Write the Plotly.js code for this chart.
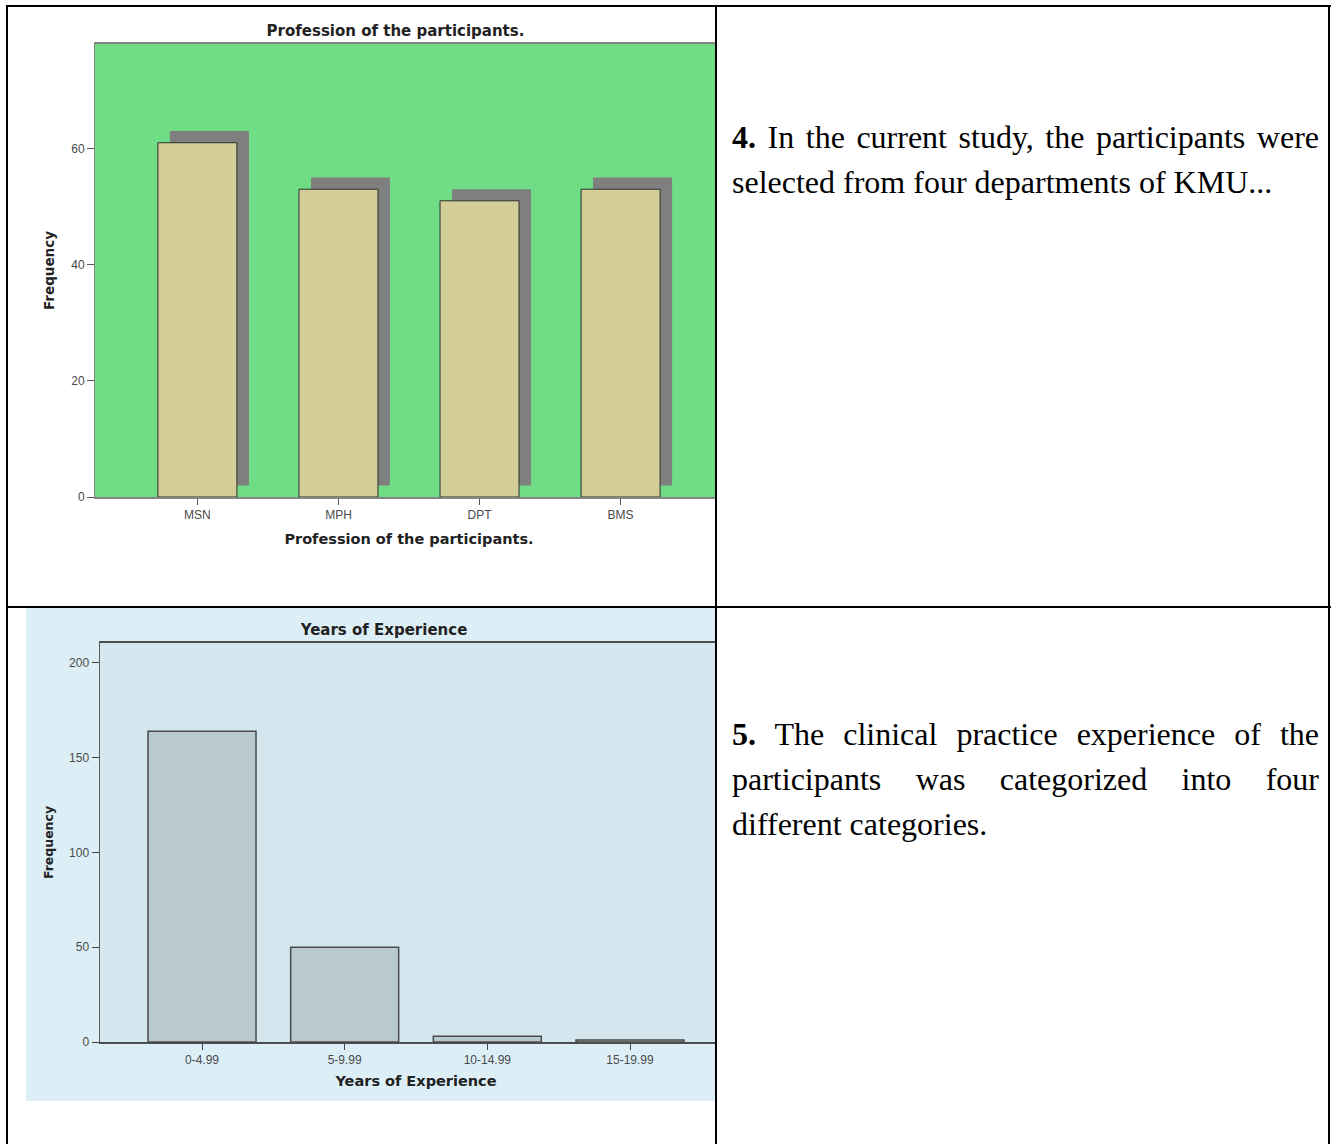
<!DOCTYPE html>
<html>
<head>
<meta charset="utf-8">
<script src="https://cdn.plot.ly/plotly-3.0.1.min.js"></script>
<style>
  html, body { margin: 0; padding: 0; background: #ffffff; }
  body { width: 1332px; height: 1144px; position: relative; overflow: hidden; }
  .rule { position: absolute; background: #000000; }
  .cell { position: absolute; overflow: hidden; background: #ffffff; }
  .note {
    position: absolute;
    font-family: "Liberation Serif", "Times New Roman", serif;
    font-size: 32px;
    line-height: 45px;
    color: #000000;
    white-space: nowrap;
  }
  .note .ln { display: block; text-align: justify; text-align-last: justify; white-space: normal; }
  .note .ln.last { text-align-last: left; }
  .note b { font-weight: bold; }
</style>
</head>
<body>

<div class="cell" style="left:8px; top:7px; width:707px; height:599px;">
  <div id="professionChart" style="position:absolute; left:0; top:0;"></div>
</div>

<div class="cell" style="left:8px; top:608px; width:707px; height:536px;">
  <div id="experienceChart" style="position:absolute; left:18px; top:0;"></div>
</div>

<div class="note" style="left:732px; top:115px; width:587px;">
  <div class="ln"><b>4.</b> In the current study, the participants were</div>
  <div class="ln last">selected from four departments of KMU...</div>
</div>
<div class="note" style="left:732px; top:712px; width:587px;">
  <div class="ln"><b>5.</b> The clinical practice experience of the</div>
  <div class="ln">participants was categorized into four</div>
  <div class="ln last">different categories.</div>
</div>

<!-- table rules -->
<div class="rule" style="left:6px; top:5px; width:1325px; height:2px;"></div>
<div class="rule" style="left:6px; top:5px; width:2px; height:1139px;"></div>
<div class="rule" style="left:715px; top:5px; width:2px; height:1139px;"></div>
<div class="rule" style="left:1328px; top:5px; width:2px; height:1139px;"></div>
<div class="rule" style="left:6px; top:606px; width:1325px; height:2px;"></div>

<script>
// Profession of the participants (frequency per department)
const professions = ['MSN', 'MPH', 'DPT', 'BMS'];
const professionCounts = [61, 53, 51, 53];
const professionTicks = [0, 20, 40, 60];

// Years of clinical experience (frequency per band)
const experienceBands = ['0-4.99', '5-9.99', '10-14.99', '15-19.99'];
const experienceCounts = [164, 50, 3, 1];
const experienceTicks = [0, 50, 100, 150, 200];

const tickFont = { family: 'Liberation Sans Narrow, Arial Narrow, Liberation Sans, Arial, sans-serif', size: 12, color: '#4a4a4a' };
const titleFamily = 'DejaVu Sans, Verdana, sans-serif';

// ---- Chart 1: bars with a drop shadow ----
const barWidth1 = 0.56;
const shadowShift = 0.085;   // shadow moved right (category units)
const shadowLift = 2;        // shadow moved up (value units)

const shadowTrace = {
  type: 'bar',
  x: professions,
  y: professionCounts,
  base: professionCounts.map(() => shadowLift),
  width: barWidth1,
  offset: -barWidth1 / 2 + shadowShift,
  marker: { color: '#7f7f7f', line: { width: 0 } },
  hoverinfo: 'skip',
  showlegend: false
};

const professionTrace = {
  type: 'bar',
  x: professions,
  y: professionCounts,
  width: barWidth1,
  offset: -barWidth1 / 2,
  marker: { color: '#D3CD98', line: { color: '#2e2e2e', width: 1 } },
  showlegend: false
};

const layout1 = {
  width: 775,
  height: 556,
  margin: { l: 87, r: 60, t: 37, b: 66, pad: 0 },
  paper_bgcolor: '#ffffff',
  plot_bgcolor: '#70DC85',
  barmode: 'overlay',
  showlegend: false,
  title: {
    text: '<b>Profession of the participants.</b>',
    font: { family: titleFamily, size: 15, color: '#222222' },
    x: 0.5, xref: 'container',
    y: 1 - 24 / 556, yref: 'container', yanchor: 'middle'
  },
  xaxis: {
    type: 'category',
    range: [-0.726, 3.726],
    showline: true, mirror: true, linecolor: '#858585', linewidth: 2,
    ticks: 'outside', ticklen: 6, tickcolor: '#555555', tickwidth: 1,
    tickfont: tickFont,
    showgrid: false, zeroline: false,
    title: {
      text: '<b>Profession of the participants.</b>',
      font: { family: titleFamily, size: 14.5, color: '#222222' },
      standoff: 12
    }
  },
  yaxis: {
    range: [0, 78],
    tickmode: 'array', tickvals: professionTicks, ticktext: professionTicks.map(String),
    showline: true, mirror: true, linecolor: '#858585', linewidth: 1,
    ticks: 'outside', ticklen: 7, tickcolor: '#555555', tickwidth: 1,
    tickfont: tickFont,
    showgrid: false, zeroline: false,
    title: {
      text: '<b>Frequency</b>',
      font: { family: titleFamily, size: 13.5, color: '#222222' },
      standoff: 13
    }
  }
};

Plotly.newPlot('professionChart', [shadowTrace, professionTrace], layout1, { staticPlot: true, displayModeBar: false });

// ---- Chart 2: plain frequency bars ----
const experienceTrace = {
  type: 'bar',
  x: experienceBands,
  y: experienceCounts,
  width: 0.757,
  marker: { color: '#B8CACF', line: { color: '#4a4a4a', width: 1.5 } },
  showlegend: false
};

const layout2 = {
  width: 716,
  height: 493,
  margin: { l: 74, r: 10, t: 35, b: 59, pad: 0 },
  paper_bgcolor: '#DDEFF6',
  plot_bgcolor: '#D4E6EE',
  showlegend: false,
  title: {
    text: '<b>Years of Experience</b>',
    font: { family: titleFamily, size: 15, color: '#222222' },
    x: 0.5, xref: 'container',
    y: 1 - 22 / 493, yref: 'container', yanchor: 'middle'
  },
  xaxis: {
    type: 'category',
    range: [-0.715, 3.715],
    showline: true, mirror: true, linecolor: '#4d4d4d', linewidth: 2,
    ticks: 'outside', ticklen: 6, tickcolor: '#444444', tickwidth: 1,
    tickfont: tickFont,
    showgrid: false, zeroline: false,
    title: {
      text: '<b>Years of Experience</b>',
      font: { family: titleFamily, size: 14.5, color: '#222222' },
      standoff: 9
    }
  },
  yaxis: {
    range: [0, 210.5],
    tickmode: 'array', tickvals: experienceTicks, ticktext: experienceTicks.map(String),
    showline: true, mirror: true, linecolor: '#5a5a5a', linewidth: 1.5,
    ticks: 'outside', ticklen: 7, tickcolor: '#444444', tickwidth: 1,
    tickfont: tickFont,
    showgrid: false, zeroline: false,
    title: {
      text: '<b>Frequency</b>',
      font: { family: titleFamily, size: 12.5, color: '#222222' },
      standoff: 12
    }
  }
};

Plotly.newPlot('experienceChart', [experienceTrace], layout2, { staticPlot: true, displayModeBar: false });
</script>
</body>
</html>
